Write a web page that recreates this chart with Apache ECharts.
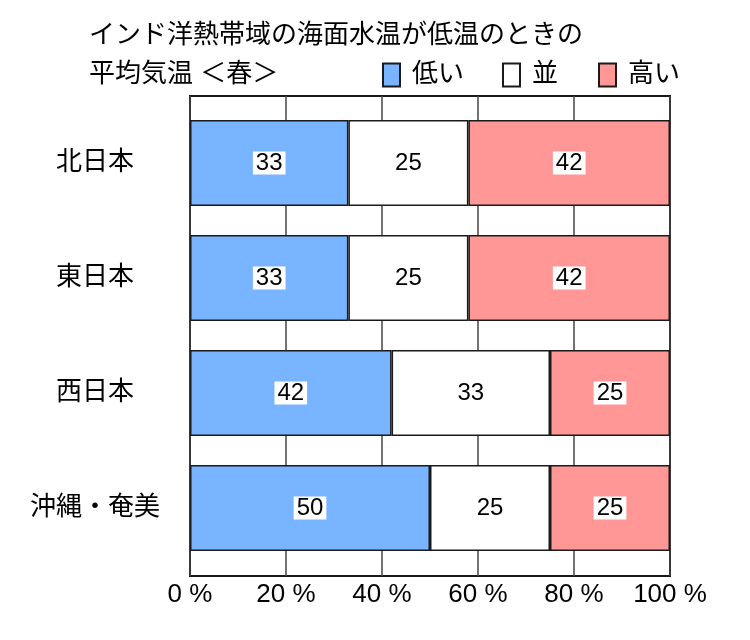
<!DOCTYPE html>
<html>
<head>
<meta charset="utf-8">
<script src="https://cdn.jsdelivr.net/npm/echarts@6/dist/echarts.min.js"></script>
<style>html,body{margin:0;padding:0;background:#fff}#c{width:750px;height:640px}</style>
</head>
<body>
<div id="c"></div>
<script>
const categories = ['北日本', '東日本', '西日本', '沖縄・奄美'];
const lowValues = [33, 33, 42, 50];
const normalValues = [25, 25, 33, 25];
const highValues = [42, 42, 25, 25];
const seriesNames = ['低い', '並', '高い'];
const xTicks = [0, 20, 40, 60, 80, 100];

const FONT = "'Liberation Sans', 'Noto Sans CJK JP', sans-serif";
const chart = echarts.init(document.getElementById('c'), null, {renderer: 'canvas'});
const labelStyle = {
  show: true, position: 'inside', formatter: '{c}', color: '#000', fontSize: 24, lineHeight: 23,
  fontFamily: FONT, backgroundColor: '#fff', padding: [0, 3, 0, 3]
};
const colors = ['#78B4FF', '#FFFFFF', '#FF9797'];
const values = [lowValues, normalValues, highValues];
const legendLefts = [377, 497, 593];

chart.setOption({
  animation: false,
  backgroundColor: '#fff',
  textStyle: {fontFamily: FONT},
  title: {
    text: 'インド洋熱帯域の海面水温が低温のときの\n平均気温 ＜春＞',
    left: 84, top: 11,
    textStyle: {fontSize: 26, fontWeight: 'normal', color: '#000', lineHeight: 39, fontFamily: FONT}
  },
  legend: seriesNames.map((n, i) => ({
    data: [{name: n, icon: 'rect'}], left: legendLefts[i], top: 57, itemWidth: 17, itemHeight: 23, itemGap: 0,
    textStyle: {fontSize: 26, color: '#000', fontFamily: FONT, padding: [0, 0, 0, 7]}
  })),
  grid: [
    {left: 190, right: 80, top: 96, bottom: 64, show: true, borderColor: '#1a1a1a', borderWidth: 2, backgroundColor: 'transparent'},
    {left: 190, right: 80, top: 105.5, height: 460}
  ],
  xAxis: [
    {gridIndex: 0, type: 'value', min: 0, max: 100, interval: 20,
     axisLine: {show: false}, axisTick: {show: false},
     splitLine: {show: true, lineStyle: {color: '#444', width: 1.5}},
     axisLabel: {fontSize: 26, color: '#000', margin: 6, fontFamily: FONT,
       formatter: v => xTicks.includes(v) ? v + ' %' : ''}},
    {gridIndex: 1, type: 'value', min: 0, max: 100, show: false}
  ],
  yAxis: [
    {gridIndex: 0, type: 'category', data: categories, show: false},
    {gridIndex: 1, type: 'category', data: categories, inverse: true,
     axisLine: {show: false}, axisTick: {show: false},
     axisLabel: {fontSize: 26, color: '#000', align: 'center', margin: 95, fontFamily: FONT}}
  ],
  series: seriesNames.map((n, i) => ({
    name: n, type: 'bar', stack: 'all', xAxisIndex: 1, yAxisIndex: 1,
    barWidth: 86, data: values[i],
    itemStyle: {color: colors[i], borderColor: '#1a1a1a', borderWidth: 1.5},
    label: labelStyle
  }))
});
</script>
</body>
</html>
